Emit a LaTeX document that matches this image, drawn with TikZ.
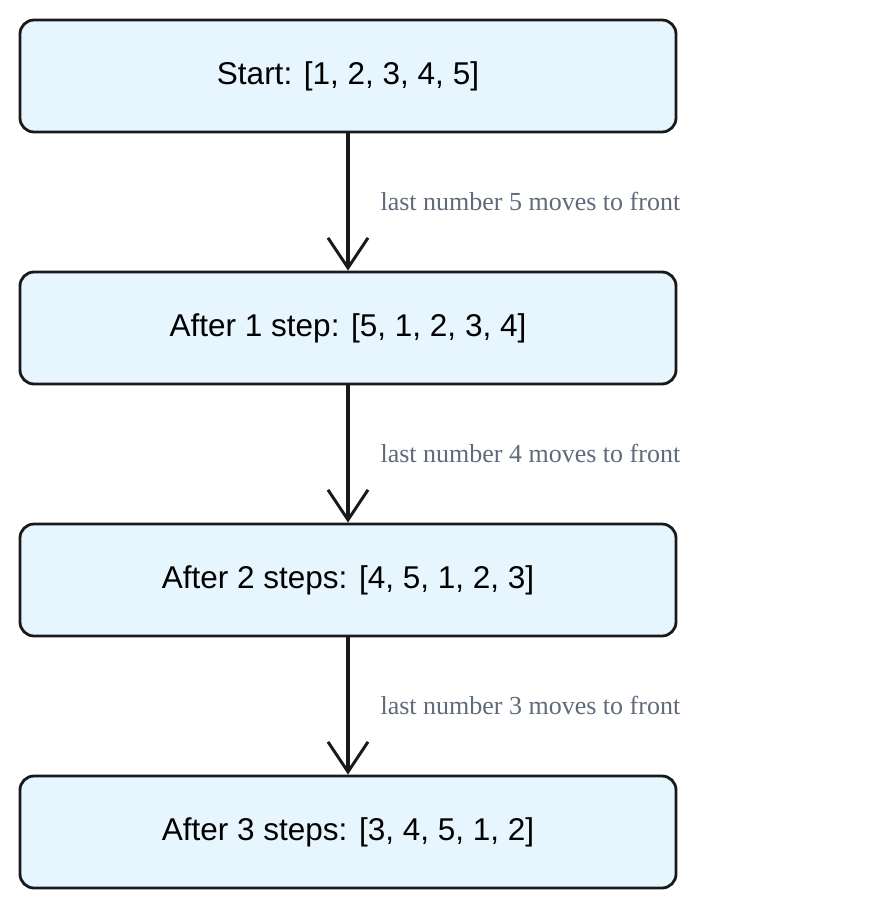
\documentclass[tikz,border=0pt]{standalone}
\usepackage{fontspec}
\setmainfont{Liberation Serif}
\setsansfont{Liberation Sans}
\usetikzlibrary{arrows.meta}
\definecolor{boxfill}{HTML}{E7F5FE}
\definecolor{lblgray}{HTML}{5F6B7A}
\tikzset{
  stepbox/.style={draw=black!90, line width=2.8pt, fill=boxfill, rounded corners=14pt,
    minimum width=656pt, minimum height=112pt, font=\sffamily\fontsize{31.5}{36}\selectfont},
  conn/.style={line width=3.6pt, draw=black!90, -{Straight Barb[length=30pt,width=40pt,line width=3pt]}},
  lbl/.style={font=\fontsize{26}{30}\selectfont, text=lblgray, anchor=west}
}
\begin{document}
\begin{tikzpicture}[x=1pt,y=-1pt]
\useasboundingbox (0,0) rectangle (896,908);
\node[stepbox] (a) at (348,76) {\raisebox{-4pt}{Start: [1, 2, 3, 4, 5]}};
\node[stepbox] (b) at (348,328) {\raisebox{-4pt}{After 1 step: [5, 1, 2, 3, 4]}};
\node[stepbox] (c) at (348,580) {\raisebox{-4pt}{After 2 steps: [4, 5, 1, 2, 3]}};
\node[stepbox] (d) at (348,832) {\raisebox{-4pt}{After 3 steps: [3, 4, 5, 1, 2]}};
\draw[conn] (a) -- (b);
\draw[conn] (b) -- (c);
\draw[conn] (c) -- (d);
\node[lbl] (l1) at (377,201) {last number 5 moves to front};
\node[lbl] (l2) at (377,453) {last number 4 moves to front};
\node[lbl] (l3) at (377,705) {last number 3 moves to front};
\end{tikzpicture}
\end{document}
